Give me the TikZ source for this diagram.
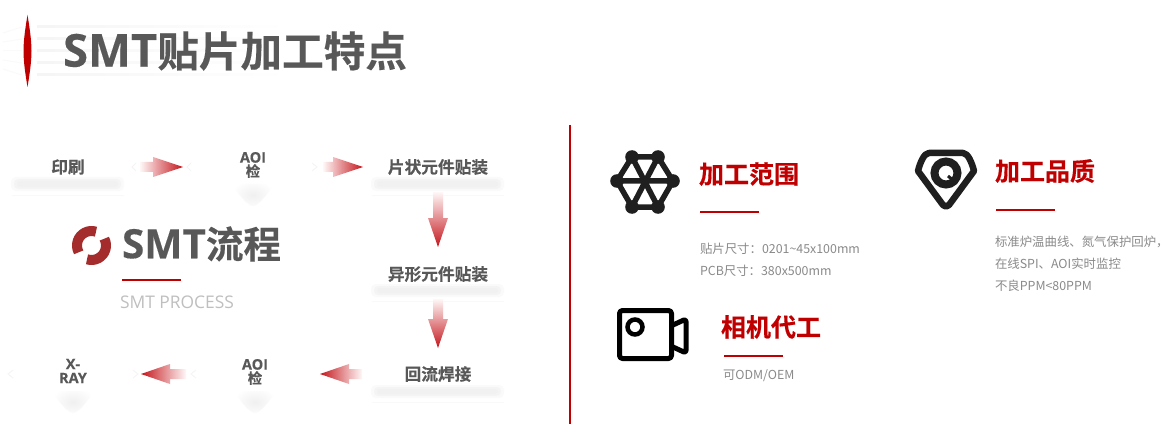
\documentclass[tikz,border=0pt]{standalone}
\usepackage{fontspec}
\setmainfont{Noto Sans CJK SC}
\newfontfamily\bcjk[BoldFont={Noto Sans CJK SC Bold},BoldFeatures={FakeBold=0.35}]{Noto Sans CJK SC}
\newfontfamily\lat[BoldFeatures={FakeBold=0.25}]{Open Sans}
\usetikzlibrary{shadings}
\definecolor{brandred}{HTML}{C00000}
\definecolor{headgray}{HTML}{585858}
\definecolor{bodygray}{HTML}{8A8A8A}
\definecolor{arrowred}{HTML}{C4161C}
\definecolor{barshade}{HTML}{F1F1F1}
\definecolor{logored}{HTML}{A52C2C}
\tikzset{
  x=1pt,y=-1pt,
  every node/.style={inner sep=0pt,outer sep=0pt},
  tx/.style={text=headgray,font=\bcjk\bfseries\fontsize{#1}{#1}\selectfont},
  stack/.style={text=headgray,font=\bcjk\bfseries\fontsize{14.5}{14}\selectfont,align=center},
  redtitle/.style={anchor=west,text=brandred,font=\bcjk\bfseries\fontsize{25}{25}\selectfont},
  body/.style={anchor=west,text=bodygray,font=\bcjk\fontsize{12.4}{12.4}\selectfont},
  redrule/.style={draw=brandred,line width=1.8pt},
  icon/.style={draw=#1,line join=round,line cap=round},
  chev/.style={draw=gray!9,line width=.8pt},
}
% soft bar under a wide label
\newcommand{\softbar}[4]{%
  \fill[barshade,opacity=.35,rounded corners=5pt] (#1-3,#3-2) rectangle (#2+3,#4+2);
  \fill[barshade,opacity=.6,rounded corners=4pt] (#1,#3) rectangle (#2,#4);
  \fill[barshade,rounded corners=3pt] (#1+3,#3+2) rectangle (#2-3,#4-2);
  \draw[gray!5,line width=.5pt] (#1-2,#4+6) -- (#2+3,#4+6);}
% soft wedge under a narrow label
\newcommand{\softwedge}[3]{%
  \begin{scope}
    \clip (#1-21,#2) -- (#1+21,#2) .. controls (#1+16,#2+8) and (#1+6,#3) .. (#1,#3) .. controls (#1-6,#3) and (#1-16,#2+8) .. cycle;
    \shade[inner color=gray!12,outer color=white] (#1-22,#2-4) rectangle (#1+22,#3+4);
  \end{scope}}
% block arrows: gradient from pale tail to red tip
\newcommand{\arrowH}[6]{% tail, base, tip, y, tailcol side key, tip side key
  \shade[#5=red!3,#6=arrowred] (#1,#4-5) -- (#2,#4-5) -- (#2,#4-10) -- (#3,#4) -- (#2,#4+10) -- (#2,#4+5) -- (#1,#4+5) -- cycle;}
\newcommand{\arrowV}[4]{% x, tail, base, tip
  \shade[top color=red!3,bottom color=arrowred] (#1-5,#2) -- (#1+5,#2) -- (#1+5,#3) -- (#1+10,#3) -- (#1,#4) -- (#1-10,#3) -- (#1-5,#3) -- cycle;}
\begin{document}
\begin{tikzpicture}
\useasboundingbox (0,0) rectangle (1173,425);
\fill[white] (0,0) rectangle (1173,425);

% title streaks
\foreach \yy in {27,39,51,63,75}{
  \shade[left color=gray!8,right color=white] (37,\yy-1) rectangle (290,\yy+1);
}
\foreach \ya/\yb in {33/27,42/39,51/51,60/63,69/75}{
  \draw[gray!4,line width=1pt] (3,\ya) -- (22,\yb);
}
\fill[brandred] (27.5,15) .. controls (29.5,27) and (31.5,40) .. (31.5,51) .. controls (31.5,62) and (29.5,75) .. (27.5,87) .. controls (25.5,75) and (23.5,62) .. (23.5,51) .. controls (23.5,40) and (25.5,27) .. (27.5,15) -- cycle;
\node[tx=41.6,anchor=west] (title) at (63,51) {{\lat\bfseries\fontsize{45.5}{45.5}\selectfont SMT}贴片加工特点};

% process section
\softbar{14}{121}{179}{189}
\softbar{374}{501}{179}{189}
\softbar{374}{501}{286}{295}
\softbar{374}{501}{387}{396}
\softwedge{253}{184}{206}
\softwedge{73}{391}{413}
\softwedge{255}{391}{413}

\draw[chev] (136,163) -- (132,167) -- (136,171);
\draw[chev] (191,163) -- (187,167) -- (191,171);
\draw[chev] (312,163) -- (317,167) -- (312,171);
\draw[chev] (13,370) -- (8,374) -- (13,378);
\draw[chev] (133,370) -- (138,374) -- (133,378);
\draw[chev] (196,370) -- (191,374) -- (196,378);

\node[tx=16.7] (print) at (68,167) {印刷};
\node[stack] (aoia) at (253,165) {{\lat\bfseries AOI}\\检};
\node[tx=16.7] (chip) at (438,167) {片状元件贴装};
\node[tx=16.7] (odd) at (438,274) {异形元件贴装};
\node[tx=16.7] (reflow) at (438,374) {回流焊接};
\node[stack] (aoib) at (255,372) {{\lat\bfseries AOI}\\检};
\node[stack] (xray) at (73,371) {{\lat\bfseries X-}\\{\lat\bfseries RAY}};

\arrowH{140}{153}{183}{167}{left color}{right color}
\arrowH{323}{333}{363}{167}{left color}{right color}
\arrowV{438}{192}{218}{247}
\arrowV{438}{299}{319}{348}
\arrowH{362}{349}{320}{374}{right color}{left color}
\arrowH{186}{170}{141}{374}{right color}{left color}

% rotating logo
\draw[draw=logored,line width=10pt] (91.5,245.5) ++(72:14.5pt) arc[start angle=72,end angle=208,radius=14.5pt];
\draw[draw=logored,line width=10pt] (91.5,245.5) ++(28:14.5pt) arc[start angle=28,end angle=-108,radius=14.5pt];
\node[tx=37.5,anchor=west] (proc) at (122,244) {{\lat\bfseries\fontsize{40.5}{40.5}\selectfont SMT}流程};
\coordinate (procl) at (122,280); \coordinate (procr) at (181,280);
\draw[redrule] (procl) -- (procr);
\node[anchor=west,text=gray!50,font=\fontsize{17.4}{17.4}\selectfont] (procen) at (120,302) {\lat SMT PROCESS};

% divider
\coordinate (divt) at (570,125); \coordinate (divb) at (570,424);
\draw[draw=brandred,line width=2pt] (divt) -- (divb);

% network icon
\coordinate (n1) at (632,157); \coordinate (n2) at (658,157); \coordinate (n3) at (673,181);
\coordinate (n4) at (658,207); \coordinate (n5) at (632,207); \coordinate (n6) at (617,181);
\draw[icon={black!88},line width=5.5pt] (n1) -- (n2) -- (n3) -- (n4) -- (n5) -- (n6) -- cycle (n1) -- (n4) (n2) -- (n5) (n3) -- (n6);
\foreach \n in {n1,n2,n3,n4,n5,n6}{ \fill[black!88] (\n) circle[radius=6.8pt]; }
\node[redtitle] (rangeh) at (699,174) {加工范围};
\coordinate (rl) at (700,212); \coordinate (rr) at (759,212);
\draw[redrule] (rl) -- (rr);
\node[body] (ranget1) at (700,248.5) {贴片尺寸：0201\char`\~45x100mm};
\node[body] (ranget2) at (700,270.5) {PCB尺寸：380x500mm};

% quality icon
\draw[icon={black!88},line width=6.5pt] (929,153) -- (963,153) .. controls (968,153) and (972,163) .. (974,171) -- (949,205) .. controls (947,207) and (945,207) .. (943,205) -- (918,171) .. controls (920,163) and (924,153) .. (929,153) -- cycle;
\draw[draw=black!88,line width=8pt] (946,173) circle[radius=11.5pt];
\draw[draw=black!88,line width=3pt] (948,176) -- (954,181);
\node[redtitle] (qualh) at (995,171) {加工品质};
\coordinate (ql) at (996,210); \coordinate (qr) at (1055,210);
\draw[redrule] (ql) -- (qr);
\node[body] (qual1) at (995,242) {标准炉温曲线、氮气保护回炉，};
\node[body] (qual2) at (995,264) {在线SPI、AOI实时监控};
\node[body] (qual3) at (995,286) {不良PPM<80PPM};

% camera icon
\draw[icon=black,line width=5pt,rounded corners=3pt] (619.5,310.5) rectangle (671.5,358.5);
\draw[draw=black,line width=4.5pt] (635,327) circle[radius=7.5pt];
\draw[icon=black,line width=5pt,rounded corners=2.5pt] (673,325) -- (686,319) -- (686,353) -- (673,347);
\node[redtitle] (camh) at (721,327) {相机代工};
\coordinate (cl) at (724,356); \coordinate (cr) at (783,356);
\draw[redrule] (cl) -- (cr);
\node[body] (camt) at (723,375.5) {可ODM/OEM};
\end{tikzpicture}
\end{document}
